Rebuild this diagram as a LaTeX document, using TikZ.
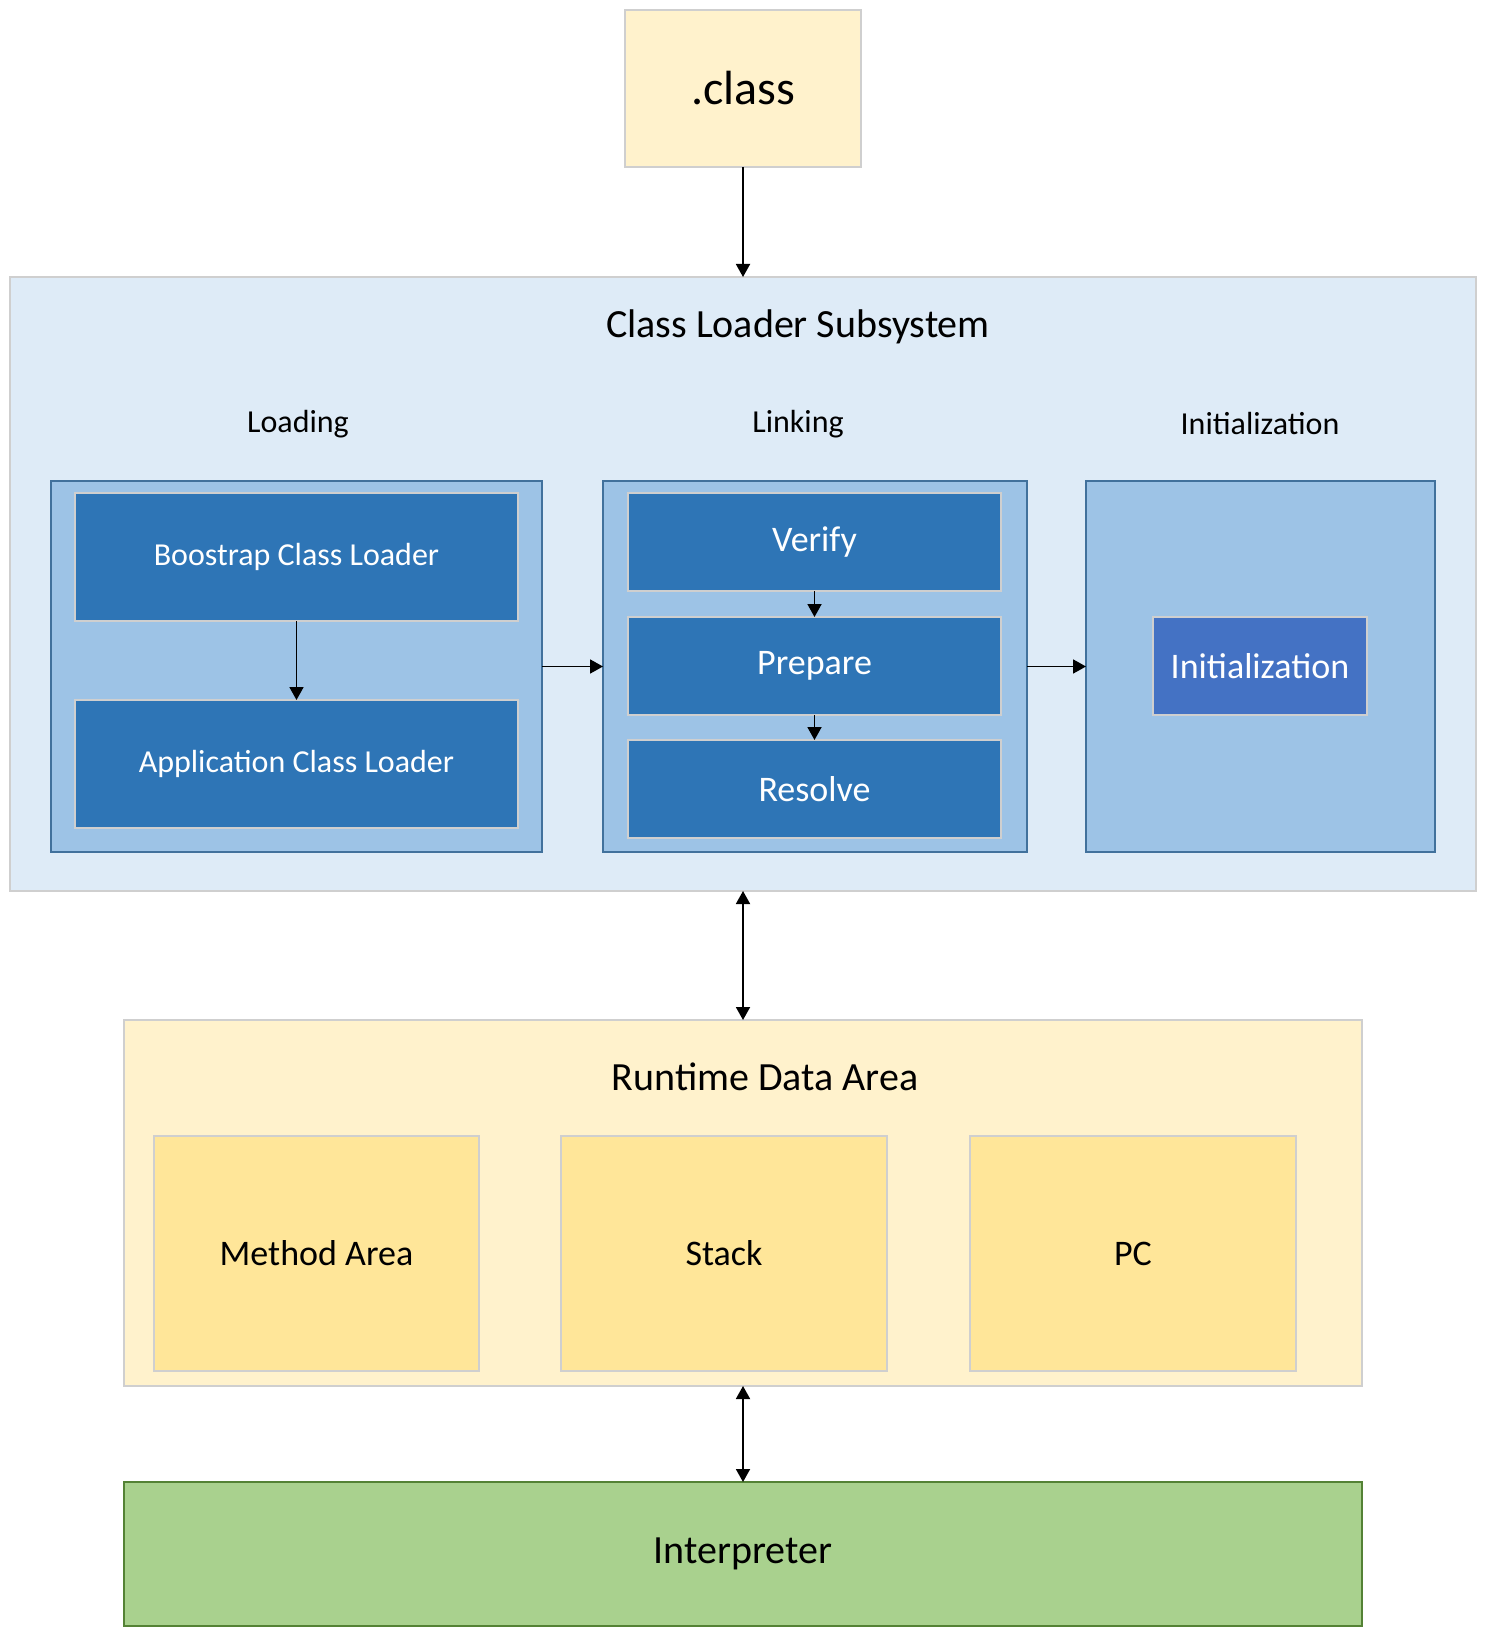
\documentclass[tikz,border=0pt]{standalone}
\usepackage{fontspec}
\setmainfont{Carlito}
\usepackage{tikz}
\usetikzlibrary{arrows.meta, positioning}

% colours
\definecolor{paleYellow}{HTML}{FFF2CC}
\definecolor{softYellow}{HTML}{FFE699}
\definecolor{paleBlue}{HTML}{DEEBF7}
\definecolor{midBlue}{HTML}{9DC3E6}
\definecolor{deepBlue}{HTML}{2E75B6}
\definecolor{royalBlue}{HTML}{4472C4}
\definecolor{edgeBlue}{HTML}{41719C}
\definecolor{leafGreen}{HTML}{A9D18E}
\definecolor{edgeGreen}{HTML}{548235}
\definecolor{edgeGray}{HTML}{CFCFCF}

\tikzset{
	block/.style = {draw = edgeGray, line width = 0.6pt, outer sep = 0, inner sep = 0, align = center},
	stage/.style = {block, draw = edgeBlue, fill = midBlue},
	task/.style = {block, fill = deepBlue, text = white},
	flow/.style = {line width = 0.9pt, -{Triangle[length = 6.5pt, width = 7pt]}},
	both/.style = {line width = 0.9pt, {Triangle[length = 6.5pt, width = 7pt]}-{Triangle[length = 6.5pt, width = 7pt]}},
}

\begin{document}
\begin{tikzpicture}[x = 0.5pt, y = -0.5pt]

		% picture frame
		\useasboundingbox (0, 0) rectangle (1484, 1636);

		% font definitions
		\def\bigFont{\fontsize{24}{28}\selectfont}
		\def\headFont{\fontsize{20}{24}\selectfont}
		\def\taskFont{\fontsize{18}{22}\selectfont}
		\def\smallFont{\fontsize{16}{19}\selectfont}

		% class file
		\node[block, fill = paleYellow, minimum width = 118pt, minimum height = 78.5pt, font = \bigFont] (CLS) at (743, 88.5) {.class};

		% class loader subsystem
		\begin{scope}

			\node[block, fill = paleBlue, minimum width = 733pt, minimum height = 307pt] (SUB) at (743, 584) {};
			\node[font = \headFont] (SUBT) at (798, 327) {Class Loader Subsystem};

			% phase labels
			\node[font = \smallFont] (LDT) at (298, 424) {Loading};
			\node[font = \smallFont] (LKT) at (798, 424) {Linking};
			\node[font = \smallFont] (INT) at (1260, 424) {Initialization};

			% phase boxes
			\node[stage, minimum width = 245.5pt, minimum height = 185.5pt] (LD) at (296.5, 666.5) {};
			\node[stage, minimum width = 212pt, minimum height = 185.5pt] (LK) at (815, 666.5) {};
			\node[stage, minimum width = 174.5pt, minimum height = 185.5pt] (IN) at (1260.5, 666.5) {};

			% loading tasks
			\node[task, minimum width = 221.5pt, minimum height = 64pt, font = \smallFont] (BCL) at (296.5, 557) {Boostrap Class Loader};
			\node[task, minimum width = 221.5pt, minimum height = 64pt, font = \smallFont] (ACL) at (296.5, 764) {Application Class Loader};

			% linking tasks
			\node[task, minimum width = 186.5pt, minimum height = 49pt, font = \taskFont] (VER) at (814.5, 542) {Verify};
			\node[task, minimum width = 186.5pt, minimum height = 49pt, font = \taskFont] (PRE) at (814.5, 666) {Prepare};
			\node[task, minimum width = 186.5pt, minimum height = 49pt, font = \taskFont] (RES) at (814.5, 789) {Resolve};

			% initialization task
			\node[task, fill = royalBlue, minimum width = 107pt, minimum height = 49pt, font = \taskFont] (INI) at (1260, 666) {Initialization};

		\end{scope}

		% runtime data area
		\begin{scope}

			\node[block, fill = paleYellow, minimum width = 619pt, minimum height = 183pt] (RDA) at (743, 1203) {};
			\node[font = \headFont] (RDAT) at (765, 1077) {Runtime Data Area};

			\node[block, fill = softYellow, minimum width = 162.5pt, minimum height = 117.5pt, font = \taskFont] (MA) at (316.5, 1253.5) {Method Area};
			\node[block, fill = softYellow, minimum width = 163pt, minimum height = 117.5pt, font = \taskFont] (ST) at (724, 1253.5) {Stack};
			\node[block, fill = softYellow, minimum width = 163pt, minimum height = 117.5pt, font = \taskFont] (PC) at (1133, 1253.5) {PC};

		\end{scope}

		% interpreter
		\node[block, draw = edgeGreen, fill = leafGreen, minimum width = 619pt, minimum height = 72pt, font = \headFont] (ITP) at (743, 1554) {Interpreter};

		% connections
		\draw[flow] (CLS) -- (SUB);
		\draw[both] (SUB) -- (RDA);
		\draw[both] (RDA) -- (ITP);
		\draw[flow] (BCL) -- (ACL);
		\draw[flow] (VER) -- (PRE);
		\draw[flow] (PRE) -- (RES);
		\draw[flow] (LD) -- (LK);
		\draw[flow] (LK) -- (IN);

	\end{tikzpicture}
\end{document}
